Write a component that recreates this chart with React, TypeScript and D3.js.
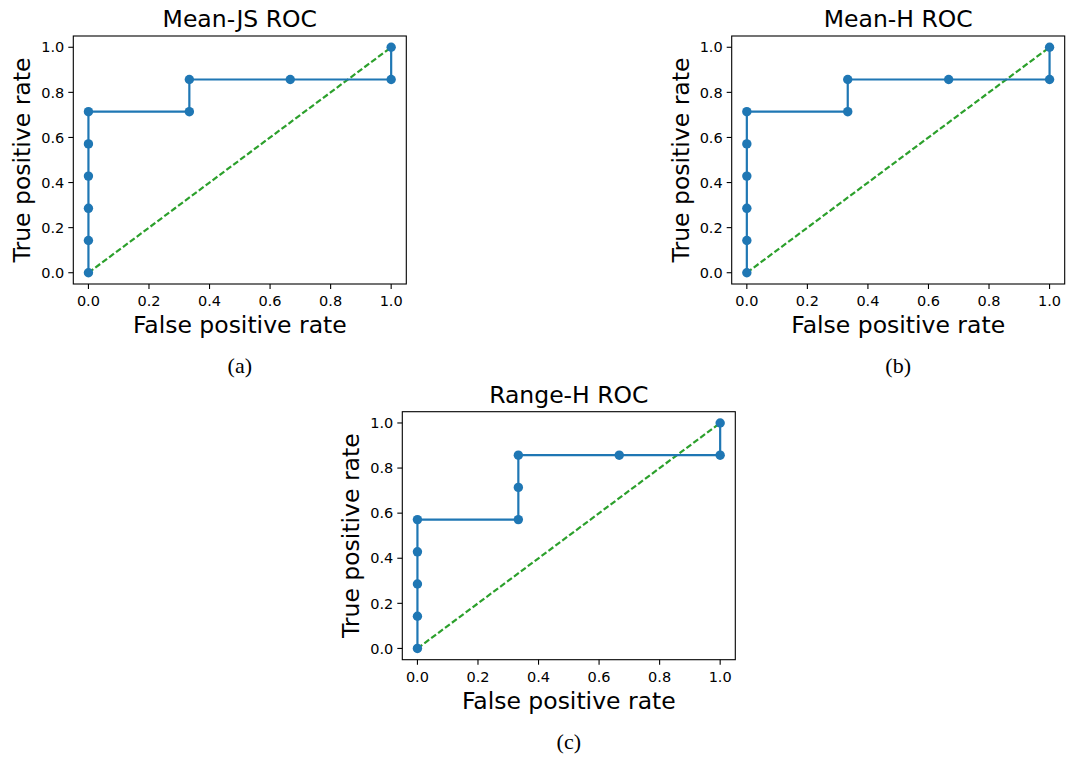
import React from "react";
import * as d3 from "d3";

const panelTitles = ["Mean-JS ROC", "Mean-H ROC", "Range-H ROC"];
const captions = ["(a)", "(b)", "(c)"];
const fprA = [0, 0, 0, 0, 0, 0, 1 / 3, 1 / 3, 2 / 3, 1, 1];
const tprA = [0, 1 / 7, 2 / 7, 3 / 7, 4 / 7, 5 / 7, 5 / 7, 6 / 7, 6 / 7, 6 / 7, 1];
const fprB = [0, 0, 0, 0, 0, 0, 1 / 3, 1 / 3, 2 / 3, 1, 1];
const tprB = [0, 1 / 7, 2 / 7, 3 / 7, 4 / 7, 5 / 7, 5 / 7, 6 / 7, 6 / 7, 6 / 7, 1];
const fprC = [0, 0, 0, 0, 0, 1 / 3, 1 / 3, 1 / 3, 2 / 3, 1, 1];
const tprC = [0, 1 / 7, 2 / 7, 3 / 7, 4 / 7, 4 / 7, 5 / 7, 6 / 7, 6 / 7, 6 / 7, 1];
const tickValues = [0, 0.2, 0.4, 0.6, 0.8, 1.0];
const xLabel = "False positive rate";
const yLabel = "True positive rate";

const FONT = "DejaVu Sans";

function Panel({ left, top, title, caption, fpr, tpr }) {
  const w = 333, h = 248;
  const x = d3.scaleLinear().domain([-0.05, 1.05]).range([left, left + w]);
  const y = d3.scaleLinear().domain([-0.05, 1.05]).range([top + h, top]);
  const pts = fpr.map((f, i) => [f, tpr[i]]);
  const line = d3.line().x((d) => x(d[0])).y((d) => y(d[1]));
  const diag = line([[0, 0], [1, 1]]);
  const cx = left + w / 2;
  return (
    <g>
      <text x={cx} y={top - 9} textAnchor="middle" fontFamily={FONT} fontSize={23.5}>{title}</text>
      <path d={diag} stroke="#2ca02c" strokeWidth={2.2} strokeDasharray="6,2.6" fill="none" />
      <path d={line(pts)} stroke="#1f77b4" strokeWidth={2.2} fill="none" strokeLinejoin="round" />
      {pts.map((p, i) => (
        <circle key={i} cx={x(p[0])} cy={y(p[1])} r={4.7} fill="#1f77b4" />
      ))}
      <rect x={left} y={top} width={w} height={h} fill="none" stroke="#000" strokeWidth={1.1} />
      {tickValues.map((t) => (
        <g key={"x" + t}>
          <line x1={x(t)} x2={x(t)} y1={top + h} y2={top + h + 5} stroke="#000" strokeWidth={1.1} />
          <text x={x(t)} y={top + h + 22} textAnchor="middle" fontFamily={FONT} fontSize={14.5}>{t.toFixed(1)}</text>
        </g>
      ))}
      {tickValues.map((t) => (
        <g key={"y" + t}>
          <line x1={left - 5} x2={left} y1={y(t)} y2={y(t)} stroke="#000" strokeWidth={1.1} />
          <text x={left - 9} y={y(t)} dy="0.36em" textAnchor="end" fontFamily={FONT} fontSize={14.5}>{t.toFixed(1)}</text>
        </g>
      ))}
      <text x={cx} y={top + h + 49} textAnchor="middle" fontFamily={FONT} fontSize={23.5}>{xLabel}</text>
      <text transform={`translate(${left - 43},${top + h / 2}) rotate(-90)`} textAnchor="middle" fontFamily={FONT} fontSize={23.5}>{yLabel}</text>
      <text x={cx} y={top + h + 89} textAnchor="middle" fontFamily="Liberation Serif" fontSize={22}>{caption}</text>
    </g>
  );
}

export default function App() {
  return (
    <svg width={1068} height={761} style={{ position: "absolute", left: 0, top: 0, background: "#fff" }}>
      <rect x={0} y={0} width={1068} height={761} fill="#fff" />
      <Panel left={73.3} top={36} title={panelTitles[0]} caption={captions[0]} fpr={fprA} tpr={tprA} />
      <Panel left={731.7} top={36} title={panelTitles[1]} caption={captions[1]} fpr={fprB} tpr={tprB} />
      <Panel left={402.3} top={411.7} title={panelTitles[2]} caption={captions[2]} fpr={fprC} tpr={tprC} />
    </svg>
  );
}
